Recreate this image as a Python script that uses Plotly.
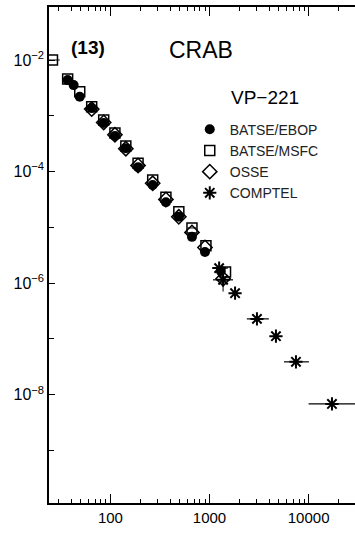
import numpy as np
import plotly.graph_objects as go

# Photon energy (keV) and log10 of flux for each instrument
ebop_energy = [37, 42.5, 49, 64.7, 85.5, 111, 143, 190, 267, 363, 490, 665, 900, 1300]
ebop_logflux = [-2.36, -2.45, -2.66, -2.86, -3.13, -3.36, -3.58, -3.92, -4.24, -4.55, -4.81, -5.17, -5.44, -5.78]

msfc_energy = [26, 37, 49, 64.7, 85.5, 111, 143, 190, 267, 363, 490, 665, 920, 1450]
msfc_logflux = [-2.0, -2.34, -2.57, -2.84, -3.075, -3.31, -3.54, -3.85, -4.15, -4.46, -4.72, -5.01, -5.33, -5.80]
msfc_elo = [23.5, 37, 49, 64.7, 85.5, 111, 143, 190, 267, 363, 490, 600, 920, 1450]
msfc_ehi = [30.8, 37, 49, 64.7, 85.5, 111, 143, 190, 267, 363, 490, 735, 920, 1450]

osse_energy = [64.7, 85.5, 111, 143, 190, 267, 363, 490, 665, 900, 1370]
osse_logflux = [-2.88, -3.12, -3.34, -3.59, -3.89, -4.21, -4.50, -4.81, -5.09, -5.36, -5.92]
osse_logflux_lo = [-2.88, -3.12, -3.34, -3.59, -3.89, -4.21, -4.50, -4.81, -5.09, -5.36, -6.15]
osse_logflux_hi = [-2.88, -3.12, -3.34, -3.59, -3.89, -4.21, -4.50, -4.81, -5.09, -5.36, -5.80]

comptel_energy = [1250, 1370, 1810, 3010, 4680, 7450, 17200]
comptel_logflux = [-5.73, -5.94, -6.18, -6.64, -6.95, -7.41, -8.165]
comptel_elo = [1060, 1084, 1810, 2380, 4680, 5640, 10000]
comptel_ehi = [1530, 1725, 1810, 3970, 4680, 10070, 30000]

x_major = [100, 1000, 10000]
x_minor = [m * 10 ** d for d in range(1, 5) for m in range(2, 10) if 24 < m * 10 ** d < 30000]
y_labelled = [-8, -6, -4, -2]
y_unlabelled = [-9, -7, -5, -3]

x_range = [1.380, 4.468]
y_range = [-9.94, -1.05]


def flux(logs):
    return np.power(10.0, logs)


fig = go.Figure()

fig.add_trace(go.Scatter(
    x=ebop_energy, y=flux(ebop_logflux), mode="markers", name="BATSE/EBOP",
    marker=dict(symbol="circle", size=10, color="black"),
))

msfc_e = np.array(msfc_energy, dtype=float)
fig.add_trace(go.Scatter(
    x=msfc_energy, y=flux(msfc_logflux), mode="markers", name="BATSE/MSFC",
    marker=dict(symbol="square-open", size=10, color="black", line=dict(width=1.5, color="black")),
    error_x=dict(type="data", symmetric=False, array=np.array(msfc_ehi) - msfc_e,
                 arrayminus=msfc_e - np.array(msfc_elo), color="black", thickness=1, width=0),
))

osse_f = flux(osse_logflux)
fig.add_trace(go.Scatter(
    x=osse_energy, y=osse_f, mode="markers", name="OSSE",
    marker=dict(symbol="diamond-open", size=11, color="black", line=dict(width=1.5, color="black")),
    error_y=dict(type="data", symmetric=False, array=flux(osse_logflux_hi) - osse_f,
                 arrayminus=osse_f - flux(osse_logflux_lo), color="black", thickness=1, width=0),
))

comptel_e = np.array(comptel_energy, dtype=float)
fig.add_trace(go.Scatter(
    x=comptel_energy, y=flux(comptel_logflux), mode="markers", name="COMPTEL",
    marker=dict(symbol="asterisk-open", size=11, color="black", line=dict(width=2, color="black")),
    error_x=dict(type="data", symmetric=False, array=np.array(comptel_ehi) - comptel_e,
                 arrayminus=comptel_e - np.array(comptel_elo), color="black", thickness=1.2, width=0),
))

text_font = "Liberation Sans, Arial, sans-serif"

fig.update_xaxes(
    type="log", range=x_range,
    showline=True, linecolor="black", linewidth=1.5, mirror="ticks",
    ticks="inside", ticklen=9, tickwidth=1, tickcolor="black",
    tickvals=x_major, ticktext=[str(v) for v in x_major],
    tickfont=dict(family=text_font, size=15, color="black"),
    showgrid=False, zeroline=False,
    minor=dict(tickvals=x_minor, ticks="inside", ticklen=4, tickwidth=1,
               tickcolor="black", showgrid=False),
)

# left axis carries the labels; the right side only repeats the decade ticks
fig.update_yaxes(
    type="log", range=y_range,
    showline=True, linecolor="black", linewidth=1.5, mirror=False,
    ticks="inside", ticklen=6, tickwidth=1, tickcolor="black",
    tickvals=[10.0 ** d for d in y_labelled],
    ticktext=[f"10<sup>\u2212{-d}</sup>" for d in y_labelled],
    tickfont=dict(family=text_font, size=16, color="black"),
    showgrid=False, zeroline=False,
    minor=dict(tickvals=[10.0 ** d for d in y_unlabelled], ticks="inside", ticklen=5,
               tickwidth=1, tickcolor="black", showgrid=False),
)

fig.update_layout(
    yaxis2=dict(
        type="log", range=y_range, overlaying="y", side="right", anchor="x",
        showline=False, showgrid=False, zeroline=False, showticklabels=False,
        ticks="inside", ticklen=5, tickwidth=1, tickcolor="black",
        tickvals=[10.0 ** d for d in sorted(y_labelled + y_unlabelled)],
    )
)

fig.add_annotation(x=0.1275, y=0.919, xref="paper", yref="paper", text="<b>(13)</b>",
                   xanchor="center", yanchor="middle", showarrow=False,
                   font=dict(family=text_font, size=19, color="black"))
fig.add_annotation(x=0.497, y=0.913, xref="paper", yref="paper", text="CRAB",
                   xanchor="center", yanchor="middle", showarrow=False,
                   font=dict(family=text_font, size=23, color="black"))
fig.add_annotation(x=0.706, y=0.8185, xref="paper", yref="paper", text="VP\u2212221",
                   xanchor="center", yanchor="middle", showarrow=False,
                   font=dict(family=text_font, size=19, color="black"))

fig.update_layout(
    width=355, height=533,
    margin=dict(l=49, r=0, t=7, b=30),
    paper_bgcolor="white", plot_bgcolor="white",
    showlegend=True,
    legend=dict(x=0.46, y=0.785, xanchor="left", yanchor="top",
                font=dict(family=text_font, size=14, color="#222"),
                bgcolor="rgba(0,0,0,0)", borderwidth=0, itemclick=False),
)

fig.write_html("out.html")
